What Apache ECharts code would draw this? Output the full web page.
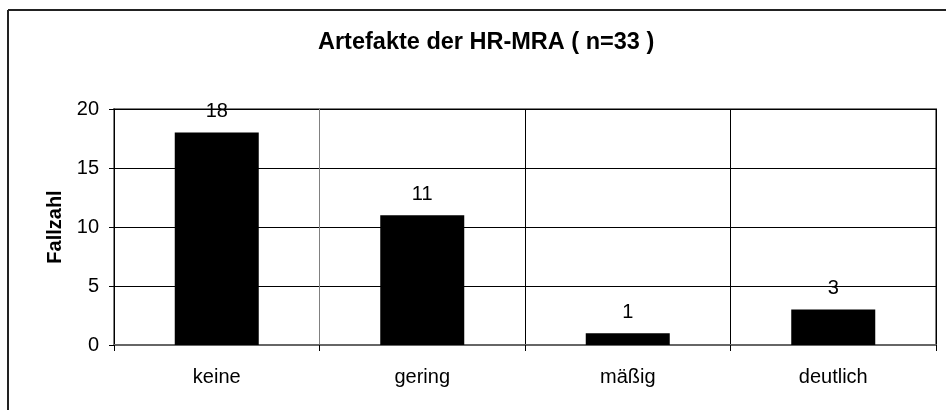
<!DOCTYPE html>
<html><head><meta charset="utf-8">
<script src="https://cdn.jsdelivr.net/npm/echarts@6/dist/echarts.min.js"></script>
<style>html,body{margin:0;padding:0;background:#fff}#c{width:946px;height:410px}</style>
</head><body><div id="c"></div>
<script>
const categories = ['keine', 'gering', 'mäßig', 'deutlich'];
const values = [18, 11, 1, 3];
const yTicks = { min: 0, max: 20, interval: 5 };
const titleText = 'Artefakte der HR-MRA ( n=33 )';
const yName = 'Fallzahl';

const chart = echarts.init(document.getElementById('c'));
const font = '"Liberation Sans", Arial, sans-serif';
chart.setOption({
  animation: false,
  title: { text: titleText, left: 313, top: 26,
    textStyle: { fontFamily: font, fontSize: 23.5, fontWeight: 'bold', color: '#000' } },
  grid: { left: 114, right: 10, top: 109, bottom: 65, show: true, borderColor: '#808080', borderWidth: 2, backgroundColor: 'transparent' },
  xAxis: {
    type: 'category', data: categories,
    axisLine: { lineStyle: { color: '#666', width: 2 } },
    axisTick: { show: true, length: 6, lineStyle: { color: '#000' } },
    axisLabel: { fontFamily: font, fontSize: 20, color: '#000', margin: 22 },
    splitLine: { show: true, lineStyle: { color: ['#000', '#808080', '#000', '#000'], width: 1 } }
  },
  yAxis: {
    type: 'value', min: yTicks.min, max: yTicks.max, interval: yTicks.interval,
    name: yName, nameLocation: 'middle', nameGap: 49, nameRotate: 90,
    nameTextStyle: { fontFamily: font, fontSize: 20, fontWeight: 'bold', color: '#000' },
    axisLine: { show: true, lineStyle: { color: '#000', width: 1 } },
    axisTick: { show: true, length: 5, lineStyle: { color: '#000' } },
    axisLabel: { fontFamily: font, fontSize: 20, color: '#000', margin: 15 },
    splitLine: { show: true, lineStyle: { color: '#000', width: 1 } }
  },
  series: [{
    type: 'bar', data: values, barWidth: 84,
    itemStyle: { color: '#000' },
    label: { show: true, position: 'top', distance: 11, fontFamily: font, fontSize: 20, color: '#000' }
  }],
  graphic: [
    { type: 'line', shape: { x1: 8, y1: 10, x2: 946, y2: 10 }, style: { stroke: '#222', lineWidth: 2 }, z: 100 },
    { type: 'line', shape: { x1: 8, y1: 10, x2: 8, y2: 410 }, style: { stroke: '#222', lineWidth: 2 }, z: 100 }
  ]
});
</script></body></html>
